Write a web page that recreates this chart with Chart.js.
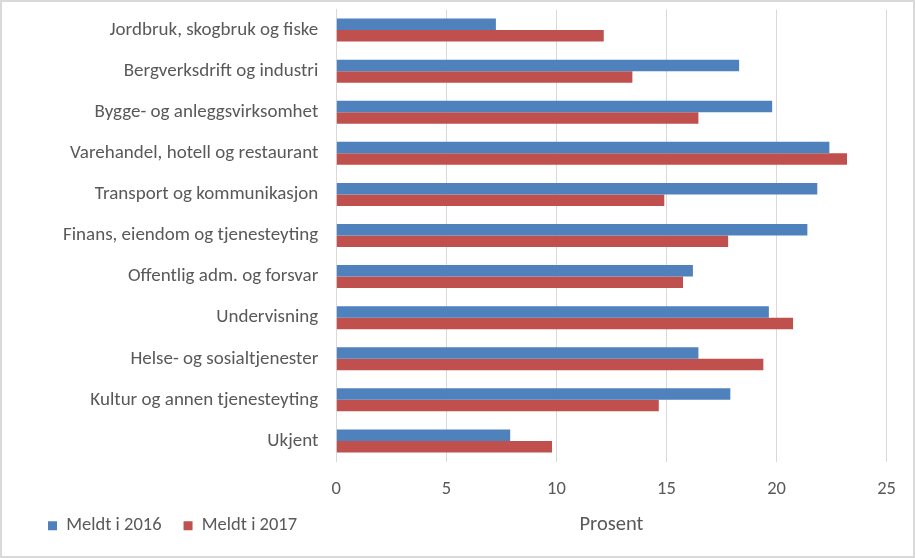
<!DOCTYPE html>
<html>
<head>
<meta charset="utf-8">
<script src="https://cdn.jsdelivr.net/npm/chart.js@4/dist/chart.umd.min.js"></script>
<style>
  html, body { margin: 0; padding: 0; background: #fff; }
  #wrap {
    width: 915px; height: 558px; box-sizing: border-box;
    border: 2px solid #d9d9d9; background: #fff;
  }
  #wrap canvas { display: block; }
</style>
</head>
<body>
<div id="wrap"><canvas id="chart" width="911" height="554"></canvas></div>
<script>
const categories = [
  "Jordbruk, skogbruk og fiske",
  "Bergverksdrift og industri",
  "Bygge- og anleggsvirksomhet",
  "Varehandel, hotell og restaurant",
  "Transport og kommunikasjon",
  "Finans, eiendom og tjenesteyting",
  "Offentlig adm. og forsvar",
  "Undervisning",
  "Helse- og sosialtjenester",
  "Kultur og annen tjenesteyting",
  "Ukjent"
];
const meldt2016 = [7.25, 18.3, 19.8, 22.4, 21.85, 21.4, 16.2, 19.65, 16.45, 17.9, 7.9];
const meldt2017 = [12.15, 13.45, 16.45, 23.2, 14.9, 17.8, 15.75, 20.75, 19.4, 14.65, 9.8];
const seriesNames = ["Meldt i 2016", "Meldt i 2017"];
const xTicks = [0, 5, 10, 15, 20, 25];

const FONT = "Carlito, Calibri, Lato, sans-serif";
const TEXT = "#595959";
const GRID = "#d9d9d9";

const ctx = document.getElementById("chart").getContext("2d");

new Chart(ctx, {
  type: "bar",
  data: {
    labels: categories,
    datasets: [
      {
        label: seriesNames[0],
        data: meldt2016,
        backgroundColor: "#4f81bd",
        borderWidth: 0,
        categoryPercentage: 0.56,
        barPercentage: 1.0,
      },
      {
        label: seriesNames[1],
        data: meldt2017,
        backgroundColor: "#c0504d",
        borderWidth: 0,
        categoryPercentage: 0.56,
        barPercentage: 1.0,
      },
    ],
  },
  options: {
    indexAxis: "y",
    responsive: false,
    animation: false,
    layout: { padding: { top: 7.5, right: 20.5, bottom: 11, left: 24 } },
    scales: {
      x: {
        type: "linear",
        min: xTicks[0],
        max: xTicks[xTicks.length - 1],
        afterBuildTicks: (scale) => {
          scale.ticks = xTicks.map((v) => ({ value: v }));
        },
        afterFit: (scale) => {
          scale.height = 33;
        },
        grid: { color: GRID, lineWidth: 1, drawTicks: false },
        border: { display: false },
        ticks: {
          color: TEXT,
          font: { family: FONT, size: 18.5 },
          padding: 17,
        },
        title: {
          display: true,
          text: "Prosent",
          color: TEXT,
          font: { family: FONT, size: 20.5 },
          padding: { top: 0, bottom: -42.5 },
        },
      },
      y: {
        afterFit: (scale) => {
          // keep the label gap from pushing the plot down
          scale.width = 310.3;
          scale.paddingTop = 0;
          scale.paddingBottom = 0;
        },
        grid: { display: false, drawTicks: false },
        border: { display: true, color: GRID, width: 1 },
        ticks: {
          color: TEXT,
          font: { family: FONT, size: 19 },
          padding: 18,
        },
      },
    },
    plugins: {
      legend: {
        position: "bottom",
        align: "start",
        labels: {
          color: TEXT,
          font: { family: FONT, size: 18.5 },
          boxWidth: 9,
          boxHeight: 9,
          padding: 22,
        },
      },
      tooltip: { enabled: false },
    },
  },
});
</script>
</body>
</html>
